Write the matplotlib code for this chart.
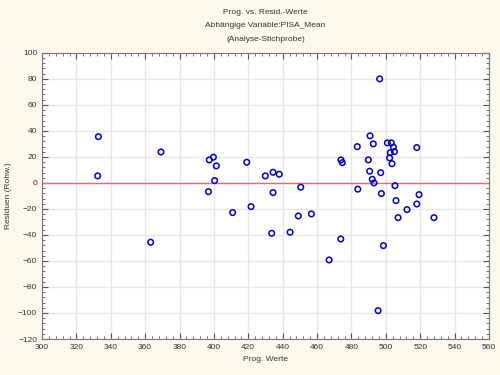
import matplotlib
matplotlib.use('Agg')
import matplotlib.pyplot as plt
from matplotlib.ticker import MultipleLocator

plt.rcParams['font.family'] = ['Liberation Sans', 'DejaVu Sans']

# predicted values (x) and residuals (y)
prog = [332.8, 332.4, 369.2, 397.3, 399.7, 401.4, 400.4, 396.8, 419.1,
        496.4, 490.8, 492.7, 483.4, 500.9, 503.2, 504.4, 505.0, 502.6, 502.2,
        503.6, 518.0, 489.8, 490.6, 497.0, 492.1, 493.1, 473.9, 474.7, 429.9,
        434.4, 438.0, 450.5, 505.3, 421.6, 434.4, 449.1, 456.7, 433.6, 444.3,
        473.8, 467.0, 483.7, 497.4, 498.6, 495.5, 505.9, 507.1, 512.3, 518.0,
        519.3, 528.0, 363.2, 410.9]
resid = [35.6, 5.4, 23.8, 17.7, 19.8, 13.1, 1.8, -6.7, 15.9,
         80.0, 36.2, 30.0, 27.9, 30.8, 30.8, 27.5, 24.1, 23.3, 19.2,
         14.8, 27.2, 17.7, 9.0, 7.9, 2.8, 0.0, 17.7, 15.6, 5.4,
         8.2, 6.7, -3.3, -2.1, -18.2, -7.4, -25.4, -23.8, -38.7, -37.9,
         -43.1, -59.2, -4.8, -8.2, -48.2, -98.2, -13.6, -26.7, -20.5, -16.2,
         -9.0, -26.7, -45.6, -22.8]

fig = plt.figure(figsize=(5, 3.75), dpi=100, facecolor='#fdf8ec')
ax = fig.add_axes([0.084, 0.096, 0.894, 0.763])
ax.set_facecolor('white')

ax.axhline(0, color='#e07070', lw=1.0, zorder=2)
ax.scatter(prog, resid, s=16, facecolors='none', edgecolors='#0000cc', linewidths=1.1, zorder=3)

ax.set_xlim(300, 560)
ax.set_ylim(-120, 100)
ax.xaxis.set_major_locator(MultipleLocator(20))
ax.xaxis.set_minor_locator(MultipleLocator(4))
ax.yaxis.set_major_locator(MultipleLocator(20))
ax.yaxis.set_minor_locator(MultipleLocator(4))
ax.grid(True, which='major', color='#e6e6e6', lw=1.0, zorder=0)
ax.tick_params(which='both', direction='in', top=True, right=True, labelsize=6, colors='#555555', labelcolor='#333333')
ax.tick_params(which='major', length=4, width=0.8)
ax.tick_params(which='minor', length=2, width=0.6)
for s in ax.spines.values():
    s.set_color('#777777')
    s.set_linewidth(0.8)
    s.set_linestyle((0, (3, 1)))

ax.set_xlabel('Prog. Werte', fontsize=6, color='#333333')
ax.set_ylabel('Residuen (Rohw.)', fontsize=6, color='#333333')

fig.text(0.531, 0.968, 'Prog. vs. Resid.-Werte', ha='center', va='center', fontsize=6, color='#333333')
fig.text(0.531, 0.931, 'Abhängige Variable:PISA_Mean', ha='center', va='center', fontsize=6, color='#333333')
fig.text(0.531, 0.894, '(Analyse-Stichprobe)', ha='center', va='center', fontsize=6, color='#333333')

fig.savefig('out.png', dpi=100, facecolor=fig.get_facecolor())
